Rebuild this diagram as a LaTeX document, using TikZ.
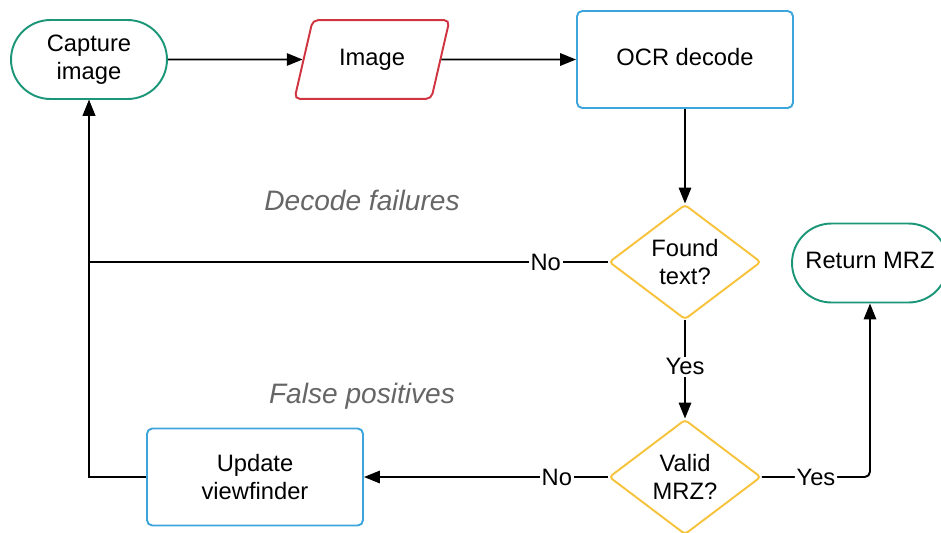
\documentclass[tikz,border=0pt]{standalone}
\usepackage{fontspec}
\setmainfont{Liberation Sans}
\usetikzlibrary{shapes.geometric,arrows.meta}

\definecolor{termgreen}{RGB}{27,150,120}
\definecolor{datared}{RGB}{208,52,64}
\definecolor{procblue}{RGB}{60,165,220}
\definecolor{decyellow}{RGB}{247,195,60}
\definecolor{notegray}{RGB}{102,102,102}

\begin{document}
\begin{tikzpicture}[x=0.02cm, y=-0.02cm, line width=1.1pt,
    >={Triangle[length=9pt, width=7pt]},
    txt/.style={font=\fontsize{13.5}{16}\selectfont, align=center, inner sep=0pt},
    term/.style={txt, draw=termgreen, rectangle, rounded corners=0.79cm, minimum width=3.12cm, minimum height=1.58cm},
    data/.style={txt, draw=datared, trapezium, trapezium left angle=77, trapezium right angle=103,
        trapezium stretches body, text height=10pt, text depth=3pt, inner ysep=15.9pt,
        minimum width=3.1cm, rounded corners=3pt},
    proc/.style={txt, draw=procblue, rectangle, rounded corners=3pt, minimum width=4.32cm, minimum height=1.94cm},
    dec/.style={txt, draw=decyellow, diamond, minimum width=3.04cm, minimum height=2.3cm, rounded corners=2pt},
    lbl/.style={fill=white, inner sep=1pt, font=\fontsize{13.5}{16}\selectfont},
    note/.style={font=\fontsize{16}{19}\selectfont\itshape, text=notegray}]
    \useasboundingbox (0, 0) rectangle (941, 532);

    \node[term] (capture) at (89, 59.5) {Capture\\image};
    \node[data] (image) at (372, 59.5) {Image};
    \node[proc, text depth=3.4pt] (ocr) at (685, 59.5) {OCR decode};

    \node[dec] (found) at (685, 262) {Found\\text?};
    \node[term, text depth=3.4pt] (ret) at (870, 263) {Return MRZ};

    \node[dec] (valid) at (685, 477) {Valid\\MRZ?};
    \node[proc] (update) at (255, 477) {Update\\viewfinder};

    \node[note] (failnote) at (362, 200) {Decode failures};
    \node[note] (falsenote) at (362, 396) {False positives};

    \draw[->] (capture) -- (image);
    \draw[->] (image) -- (ocr);
    \draw[->] (ocr) -- (found);
    \draw[->] (found.west) -- node[lbl, pos=0.12] {No} (found.west -| capture.south) -- (capture.south);
    \draw[->] (found) -- node[lbl, pos=0.47] {Yes} (valid);
    \draw[->] (valid.west) -- node[lbl, pos=0.21] {No} (update.east);
    \draw[->] (update.west) -- (update.west -| capture.south) -- (capture.south);
    \draw[->, rounded corners=3pt] (valid.east) -| node[lbl, pos=0.25] {Yes} (ret.south);

  \end{tikzpicture}
\end{document}
